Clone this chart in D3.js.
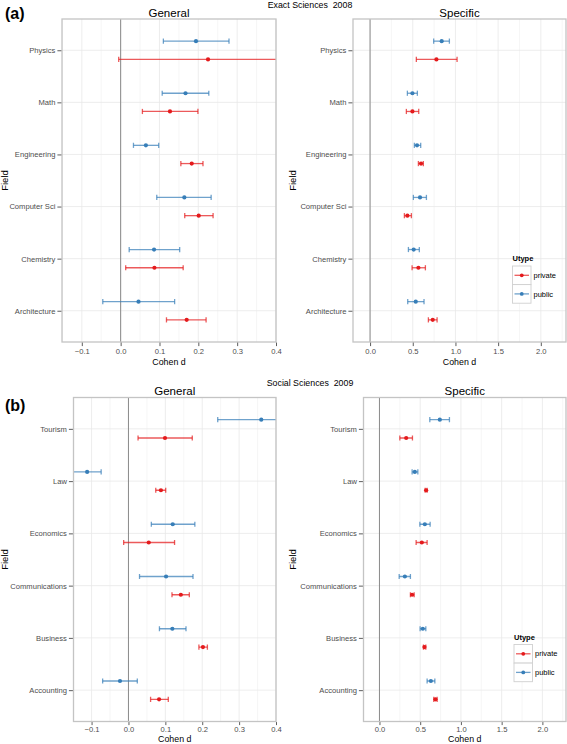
<!DOCTYPE html>
<html><head><meta charset="utf-8">
<script src="https://cdn.jsdelivr.net/npm/d3@7"></script>
<style>
html,body{margin:0;padding:0;background:#fff;}
svg text{font-family:"Liberation Sans",Arial,Helvetica,sans-serif;}
</style></head>
<body>
<svg id="chart" width="567" height="744"></svg>
<script>
// ---------- DATA (each entry: [lower, estimate, upper]) ----------
const exactFields = ["Architecture","Chemistry","Computer Sci","Engineering","Math","Physics"];
const socialFields = ["Accounting","Business","Communications","Economics","Law","Tourism"];

const exactGeneralPublic  = [[-0.046,0.046,0.139],[0.022,0.086,0.152],[0.093,0.164,0.233],[0.033,0.065,0.098],[0.107,0.167,0.227],[0.110,0.194,0.279]];
const exactGeneralPrivate = [[0.118,0.170,0.220],[0.013,0.087,0.161],[0.165,0.201,0.238],[0.155,0.183,0.212],[0.056,0.127,0.199],[-0.005,0.225,0.455]];
const exactSpecificPublic  = [[0.441,0.535,0.632],[0.449,0.511,0.577],[0.507,0.585,0.660],[0.519,0.550,0.593],[0.437,0.496,0.554],[0.745,0.839,0.929]];
const exactSpecificPrivate = [[0.683,0.734,0.785],[0.492,0.566,0.648],[0.402,0.437,0.484],[0.566,0.597,0.624],[0.425,0.496,0.570],[0.542,0.777,1.019]];

const socialGeneralPublic  = [[-0.070,-0.023,0.024],[0.084,0.119,0.156],[0.030,0.102,0.175],[0.062,0.120,0.180],[-0.152,-0.112,-0.074],[0.242,0.360,0.478]];
const socialGeneralPrivate = [[0.060,0.083,0.108],[0.191,0.202,0.214],[0.118,0.142,0.165],[-0.013,0.055,0.125],[0.074,0.088,0.101],[0.026,0.099,0.173]];
const socialSpecificPublic  = [[0.585,0.631,0.680],[0.499,0.532,0.569],[0.242,0.312,0.380],[0.496,0.557,0.622],[0.401,0.434,0.471],[0.618,0.741,0.859]];
const socialSpecificPrivate = [[0.667,0.687,0.708],[0.540,0.552,0.569],[0.380,0.401,0.426],[0.450,0.520,0.585],[0.561,0.573,0.585],[0.250,0.328,0.405]];

const generalTicks  = [-0.1,0.0,0.1,0.2,0.3,0.4];
const specificTicks = [0.0,0.5,1.0,1.5,2.0];
const legendLabels  = ["private","public"];
const seriesColors  = {private:"#E41A1C", public:"#377EB8"};

// ---------- DRAW ----------
const svg = d3.select("#chart");
const fmt = d3.format(".1f");
let clipId = 0;

function drawPanel(p){
  const g = svg.append("g");
  const x = d3.scaleLinear().domain(p.domain).range([p.x0,p.x1]);
  const y = d3.scalePoint().domain(p.fields).range([p.y1,p.y0]).padding(0.6);
  const off = y.step()*0.175;

  g.append("rect").attr("x",p.x0).attr("y",p.y0).attr("width",p.x1-p.x0).attr("height",p.y1-p.y0).attr("fill","#fff");

  // minor vertical grid
  const step = p.ticks[1]-p.ticks[0];
  const minor = [];
  for(let v=p.ticks[0]-step/2; v<=p.domain[1]+1e-9; v+=step){ if(v>=p.domain[0]) minor.push(v); }
  g.selectAll(null).data(minor).join("line")
    .attr("x1",d=>x(d)).attr("x2",d=>x(d)).attr("y1",p.y0).attr("y2",p.y1)
    .attr("stroke","#f4f4f4").attr("stroke-width",0.8);
  // major grid
  g.selectAll(null).data(p.ticks).join("line")
    .attr("x1",d=>x(d)).attr("x2",d=>x(d)).attr("y1",p.y0).attr("y2",p.y1)
    .attr("stroke","#e8e8e8").attr("stroke-width",0.8);
  g.selectAll(null).data(p.fields).join("line")
    .attr("x1",p.x0).attr("x2",p.x1).attr("y1",d=>y(d)).attr("y2",d=>y(d))
    .attr("stroke","#e8e8e8").attr("stroke-width",0.8);

  // zero line
  g.append("line").attr("x1",x(0)).attr("x2",x(0)).attr("y1",p.y0).attr("y2",p.y1)
    .attr("stroke","#8a8a8a").attr("stroke-width",1);

  const cid = "clip"+(clipId++);
  svg.append("clipPath").attr("id",cid).append("rect")
    .attr("x",p.x0).attr("y",p.y0).attr("width",p.x1-p.x0).attr("height",p.y1-p.y0);
  const marks = g.append("g").attr("clip-path",`url(#${cid})`);

  const series = [
    {key:"public", vals:p.pub, dy:-off},
    {key:"private", vals:p.priv, dy:off}
  ];
  series.forEach(s=>{
    const rows = p.fields.map((f,i)=>({f, lo:s.vals[i][0], est:s.vals[i][1], hi:s.vals[i][2]}));
    const col = seriesColors[s.key];
    const eb = marks.append("g").attr("stroke",col).attr("stroke-opacity",0.72).attr("stroke-width",1.3);
    eb.selectAll(null).data(rows).join("line")
      .attr("x1",d=>x(d.lo)).attr("x2",d=>x(d.hi))
      .attr("y1",d=>y(d.f)+s.dy).attr("y2",d=>y(d.f)+s.dy);
    eb.selectAll(null).data(rows.flatMap(d=>[{f:d.f,v:d.lo},{f:d.f,v:d.hi}])).join("line")
      .attr("x1",d=>x(d.v)).attr("x2",d=>x(d.v))
      .attr("y1",d=>y(d.f)+s.dy-2.6).attr("y2",d=>y(d.f)+s.dy+2.6);
    marks.selectAll(null).data(rows).join("circle")
      .attr("cx",d=>x(d.est)).attr("cy",d=>y(d.f)+s.dy).attr("r",2.1).attr("fill",col);
  });

  // border
  g.append("rect").attr("x",p.x0).attr("y",p.y0).attr("width",p.x1-p.x0).attr("height",p.y1-p.y0)
    .attr("fill","none").attr("stroke","#c4c4c4").attr("stroke-width",1.3);

  // axes
  const ax = g.append("g").attr("transform",`translate(0,${p.y1+0.6})`)
    .call(d3.axisBottom(x).tickValues(p.ticks).tickFormat(fmt).tickSize(p.tickLen).tickSizeOuter(0).tickPadding(p.tickPad));
  const ay = g.append("g").attr("transform",`translate(${p.x0-0.6},0)`)
    .call(d3.axisLeft(y).tickSize(4).tickSizeOuter(0).tickPadding(2));
  [ax,ay].forEach(a=>{
    a.select(".domain").remove();
    a.selectAll(".tick line").attr("stroke","#333").attr("stroke-width",0.8);
    a.selectAll(".tick text").attr("fill",null).style("fill","#4d4d4d").style("font-size","7.6px");
  });

  // titles
  g.append("text").attr("x",(p.x0+p.x1)/2).attr("y",p.y0-2.5).attr("text-anchor","middle")
    .style("font-size","11.5px").style("fill","#000").text(p.title);
  g.append("text").attr("x",(p.x0+p.x1)/2).attr("y",p.y1+p.xtitleOff).attr("text-anchor","middle")
    .style("font-size","8.8px").style("fill","#000").text("Cohen d");
  g.append("text").attr("transform",`translate(${p.fieldX},${(p.y0+p.y1)/2}) rotate(-90)`)
    .attr("text-anchor","middle").attr("dy","0.35em")
    .style("font-size","9.5px").style("fill","#000").text("Field");

  if(p.legend){
    const L = p.legend;
    const lg = g.append("g");
    lg.append("text").attr("x",L.x).attr("y",L.y).style("font-size","7.5px").style("font-weight","bold").text("Utype");
    legendLabels.forEach((lab,i)=>{
      const ky = L.y+5+i*18.6;
      lg.append("rect").attr("x",L.x).attr("y",ky).attr("width",18.5).attr("height",18.6)
        .attr("fill","#fff").attr("stroke","#d0d0d0").attr("stroke-width",0.9);
      lg.append("line").attr("x1",L.x+2).attr("x2",L.x+16.5).attr("y1",ky+9.3).attr("y2",ky+9.3)
        .attr("stroke",seriesColors[lab]).attr("stroke-opacity",0.72).attr("stroke-width",1.3);
      lg.append("circle").attr("cx",L.x+9.25).attr("cy",ky+9.3).attr("r",1.9).attr("fill",seriesColors[lab]);
      lg.append("text").attr("x",L.x+21).attr("y",ky+9.3).attr("dy","0.35em")
        .style("font-size","7.5px").style("fill","#000").text(lab);
    });
  }
}

drawPanel({x0:62,x1:276,y0:19,y1:342,domain:[-0.151,0.4],ticks:generalTicks,fields:exactFields,
  pub:exactGeneralPublic,priv:exactGeneralPrivate,title:"General",fieldX:5,xtitleOff:23,tickLen:3.5,tickPad:2.5});
drawPanel({x0:353,x1:566,y0:19,y1:342,domain:[-0.2,2.295],ticks:specificTicks,fields:exactFields,
  pub:exactSpecificPublic,priv:exactSpecificPrivate,title:"Specific",fieldX:293,xtitleOff:23,tickLen:3.5,tickPad:2.5,legend:{x:512.5,y:261}});
drawPanel({x0:73.5,x1:276,y0:397.5,y1:721.5,domain:[-0.149,0.4],ticks:generalTicks,fields:socialFields,
  pub:socialGeneralPublic,priv:socialGeneralPrivate,title:"General",fieldX:5,xtitleOff:20.3,tickLen:3,tickPad:2});
drawPanel({x0:363.5,x1:566,y0:397.5,y1:721.5,domain:[-0.196,2.29],ticks:specificTicks,fields:socialFields,
  pub:socialSpecificPublic,priv:socialSpecificPrivate,title:"Specific",fieldX:293,xtitleOff:20.3,tickLen:3,tickPad:2,legend:{x:514,y:639.5}});

// figure labels and headers
svg.append("text").attr("x",5).attr("y",19).style("font-size","16px").style("font-weight","bold").text("(a)");
svg.append("text").attr("x",310).attr("y",8).attr("text-anchor","middle").style("font-size","8.8px").text("Exact Sciences\u00a0 2008");
svg.append("text").attr("x",5).attr("y",411).style("font-size","16px").style("font-weight","bold").text("(b)");
svg.append("text").attr("x",310).attr("y",386).attr("text-anchor","middle").style("font-size","8.8px").text("Social Sciences\u00a0 2009");
</script>
</body></html>
